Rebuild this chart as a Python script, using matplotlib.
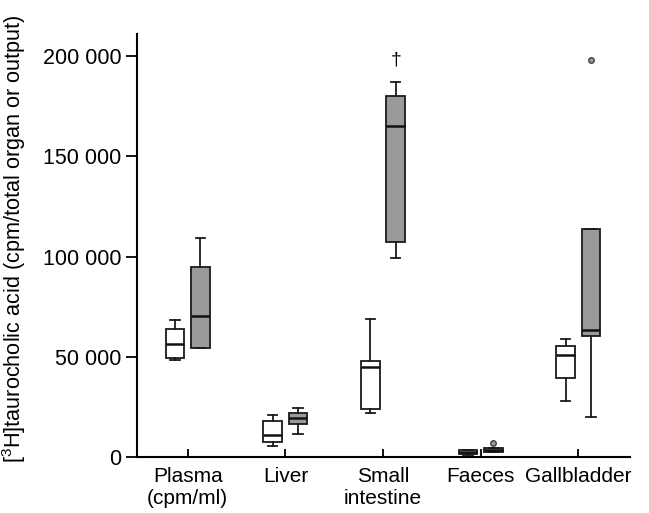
import matplotlib
matplotlib.use("Agg")
import matplotlib.pyplot as plt

plt.rcParams['font.family'] = ['Liberation Sans', 'DejaVu Sans']
plt.rcParams['mathtext.fontset'] = 'custom'
plt.rcParams['mathtext.rm'] = 'Liberation Sans'

categories = ["Plasma\n(cpm/ml)", "Liver", "Small\nintestine", "Faeces", "Gallbladder"]

# white boxes (control) : whislo, q1, med, q3, whishi
white_lo = [48500, 5500, 22000, 1000, 28000]
white_q1 = [49500, 7500, 24000, 1500, 39500]
white_med = [56500, 11000, 45000, 2500, 51000]
white_q3 = [64000, 18000, 48000, 3500, 55500]
white_hi = [68500, 21000, 69000, 3500, 59000]

# grey boxes (treated)
grey_lo = [54500, 11500, 99500, 2500, 20000]
grey_q1 = [54500, 16500, 107000, 2500, 60500]
grey_med = [70500, 19500, 165000, 3500, 63500]
grey_q3 = [95000, 22000, 180000, 4500, 113500]
grey_hi = [109000, 24500, 187000, 4500, 113500]
grey_fliers = [[], [], [], [7000], [198000]]

fig = plt.figure(figsize=(6.49, 5.13), dpi=100)
ax = fig.add_axes([0.211, 0.109, 0.76, 0.825])

pos = list(range(1, len(categories) + 1))
off = 0.13
w = 0.19

def stats(lo, q1, med, q3, hi, fl=None):
    out = []
    for i in range(len(lo)):
        out.append(dict(whislo=lo[i], q1=q1[i], med=med[i], q3=q3[i], whishi=hi[i],
                        fliers=(fl[i] if fl else [])))
    return out

common = dict(widths=w, patch_artist=True, showfliers=True,
              whiskerprops=dict(color='#1a1a1a', lw=1.3),
              capprops=dict(color='#1a1a1a', lw=1.3),
              medianprops=dict(color='#111111', lw=1.8),
              flierprops=dict(marker='o', markersize=4, markerfacecolor='#999999',
                              markeredgecolor='#444444'))

ax.bxp(stats(white_lo, white_q1, white_med, white_q3, white_hi),
       positions=[p - off for p in pos], boxprops=dict(facecolor='white', edgecolor='#1a1a1a', lw=1.3),
       **common)
ax.bxp(stats(grey_lo, grey_q1, grey_med, grey_q3, grey_hi, grey_fliers),
       positions=[p + off for p in pos], boxprops=dict(facecolor='#9a9a9a', edgecolor='#1a1a1a', lw=1.3),
       **common)

ax.text(3 + off, 198000, "\u2020", ha='center', va='center', fontsize=14)

ax.set_xlim(0.48, 5.53)
ax.set_ylim(0, 211000)
ax.set_xticks(pos)
ax.set_xticklabels(categories, fontsize=15)
ax.set_yticks([0, 50000, 100000, 150000, 200000])
ax.set_yticklabels(["0", "50 000", "100 000", "150 000", "200 000"], fontsize=15.5)
ax.tick_params(axis='x', direction='in', length=6, width=1.3, pad=7)
ax.tick_params(axis='y', direction='out', length=8, width=1.3, pad=3)
ax.spines['top'].set_visible(False)
ax.spines['right'].set_visible(False)
for s in ['left', 'bottom']:
    ax.spines[s].set_linewidth(1.5)
ax.set_ylabel("[$^3$H]taurocholic acid (cpm/total organ or output)", fontsize=15.6)
ax.yaxis.set_label_coords(-0.221, 0.515)

fig.savefig("out.png", dpi=100)
